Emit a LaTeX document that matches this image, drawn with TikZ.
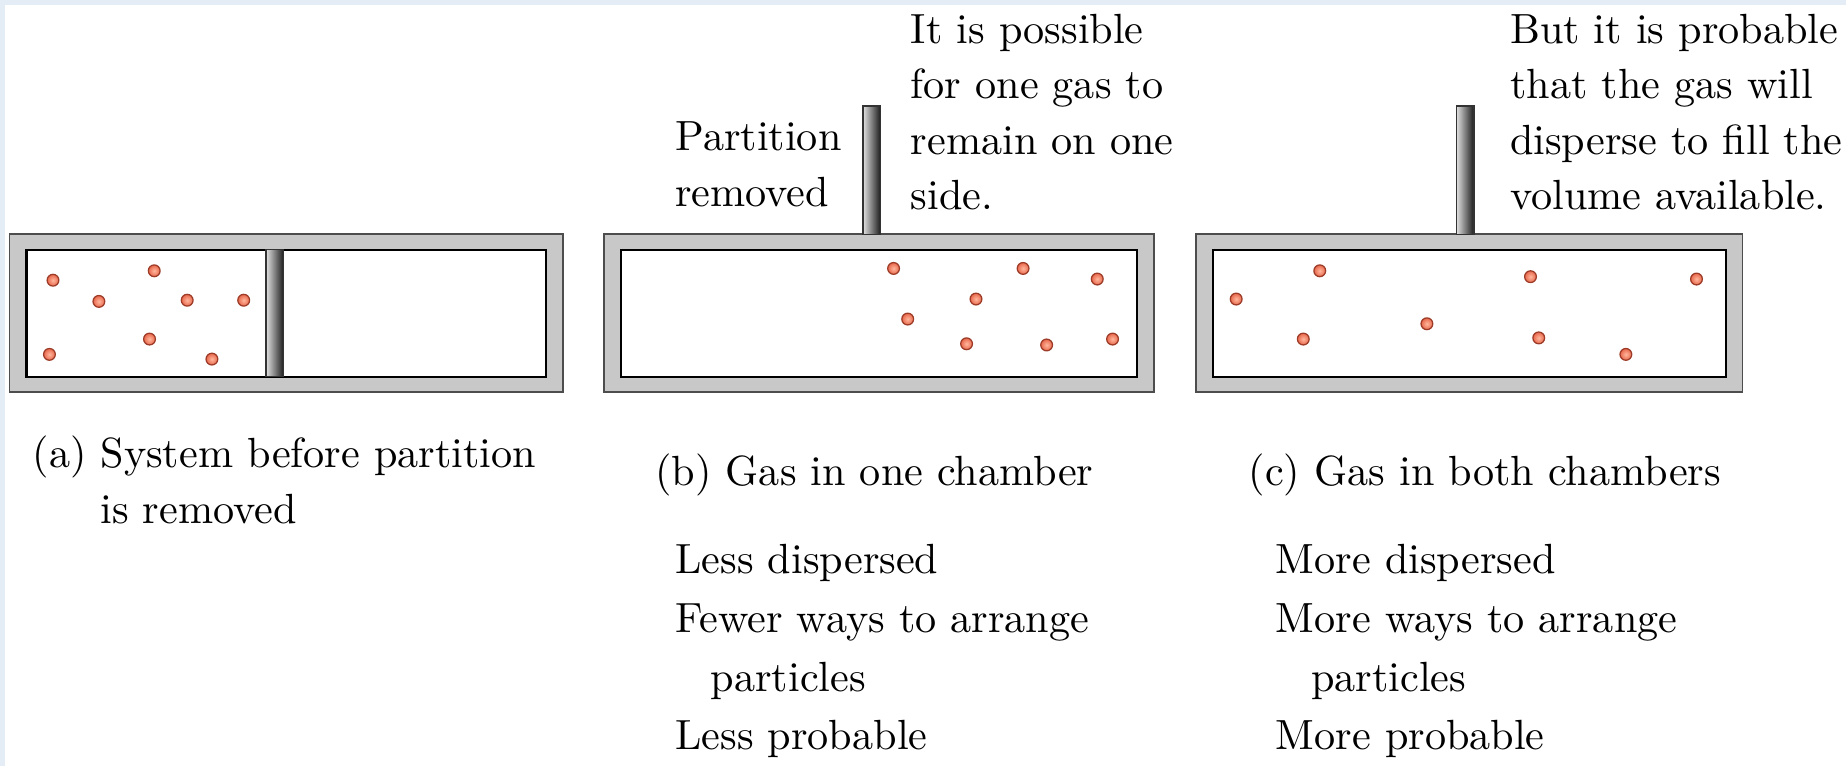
\documentclass[tikz,border=0pt]{standalone}
\usetikzlibrary{calc}
\definecolor{bgblue}{HTML}{E4ECF5}
\definecolor{wallgray}{HTML}{C8C8C8}
\definecolor{wallline}{HTML}{4D4D4D}
\definecolor{gasin}{HTML}{FFB89E}
\definecolor{gasout}{HTML}{E8674B}
\definecolor{gasrim}{HTML}{9C3B27}
\tikzset{
  txt/.style={inner sep=0pt,anchor=base west,align=left,font=\fontsize{10.2}{13.4}\selectfont},
  listtxt/.style={txt,font=\fontsize{10.2}{14.2}\selectfont},
  particle/.style={draw=gasrim,line width=0.3pt,inner color=gasin,outer color=gasout},
  rod/.style={draw=black!80,line width=0.3pt,left color=black!12,right color=black!90},
}
\begin{document}
\begin{tikzpicture}
  \useasboundingbox (0,0) rectangle (15.68,6.51);
  % page with light frame on top and left
  \fill[bgblue] (0,0) rectangle (15.68,6.51);
  \fill[white] (0.045,0) rectangle (15.68,6.465);
  % the three containers
  \foreach \l/\r in {0.08/4.78,5.13/9.80,10.16/14.80}{
     \draw[wallline,fill=wallgray,line width=0.4pt] (\l,3.18) rectangle (\r,4.52);
     \draw[black,fill=white,line width=0.5pt] (\l+0.145,3.31) rectangle (\r-0.14,4.39);}
  % partition in place, then lifted out
  \shadedraw[rod] (2.26,3.31) rectangle (2.41,4.39);
  \shadedraw[rod] (7.33,4.52) rectangle (7.48,5.61);
  \shadedraw[rod] (12.37,4.52) rectangle (12.52,5.61);
  % gas particles
  \foreach \x/\y in {0.45/4.13,0.84/3.95,1.31/4.21,1.59/3.96,2.07/3.96,1.27/3.63,0.42/3.50,1.80/3.46}{
     \shadedraw[particle] (\x,\y) circle (0.05);}
  \foreach \x/\y in {7.59/4.23,8.69/4.23,9.32/4.14,8.29/3.97,7.71/3.80,8.21/3.59,8.89/3.58,9.45/3.63}{
     \shadedraw[particle] (\x,\y) circle (0.05);}
  \foreach \x/\y in {10.50/3.97,11.21/4.21,13.00/4.16,14.41/4.14,11.07/3.63,12.12/3.76,13.07/3.64,13.81/3.50}{
     \shadedraw[particle] (\x,\y) circle (0.05);}
  % labels above (anchored on their last line)
  \node[txt] (removed) at (5.73,4.76) {Partition\\removed};
  \node[txt] (possible) at (7.73,4.73) {It is possible\\for one gas to\\remain on one\\side.};
  \node[txt] (probable) at (12.82,4.73) {But it is probable\\that the gas will\\disperse to fill the\\volume available.};
  % captions below
  \node[txt,font=\fontsize{10.2}{13.7}\selectfont] (capA) at (0.27,2.06) {(a) System before partition\\\hphantom{(a)~}is removed};
  \node[txt] (capB) at (5.56,2.39) {(b) Gas in one chamber};
  \node[txt] (capC) at (10.60,2.39) {(c) Gas in both chambers};
  \node[listtxt] (listB) at (5.73,0.14) {Less dispersed\\Fewer ways to arrange\\\hspace*{0.3cm}particles\\Less probable};
  \node[listtxt] (listC) at (10.83,0.14) {More dispersed\\More ways to arrange\\\hspace*{0.3cm}particles\\More probable};
\end{tikzpicture}
\end{document}
